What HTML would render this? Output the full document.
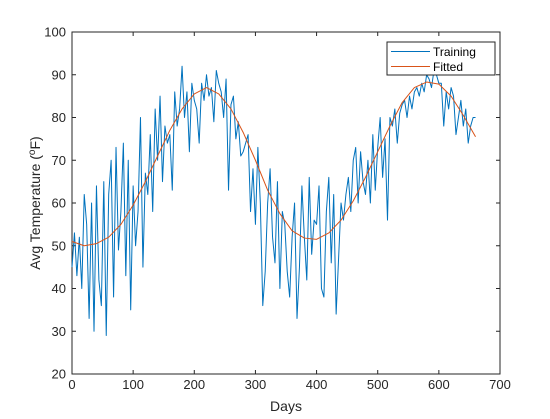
<!DOCTYPE html>
<html><head><meta charset="utf-8"><style>body{margin:0;background:#fff}svg{display:block;font-family:"Liberation Sans",sans-serif}</style></head>
<body>
<svg id="chart" width="550" height="419">
<rect x="0" y="0" width="550" height="419" fill="#fff"/>
<g id="plot"></g>
</svg>
<script>
const trainDayStep = 4;
const trainValues = [45,53,43,52,40,62,55,33,60,30,64,42,36,65,29,62,
70,38,73,49,58,74,43,70,35,64,50,58,80,45,67,
62,76,58,82,70,85,65,78,74,76,63,86,78,82,92,
80,86,72,88,84,82,74,88,84,90,85,87,79,91,88,
86,80,89,63,83,85,75,79,71,72,74,76,58,68,55,
73,60,36,44,60,68,52,46,65,40,58,55,44,38,52,
60,33,45,64,52,42,66,48,56,55,64,40,38,58,66,
46,62,34,47,60,56,62,66,58,70,73,60,72,65,62,
70,60,76,63,73,80,66,75,56,80,78,82,74,81,83,
84,80,85,82,86,87,85,88,86,90,89,87,91,90,88,
88,78,86,82,87,85,76,80,84,78,82,74,78,80,80];
const fitDays = [0,20,40,60,80,100,120,140,160,180,200,220,240,260,280,300,320,340,360,380,400,420,440,460,480,500,520,540,560,580,600,620,640,660];
const fitValues = [51,50,50.5,52,55,59.5,65,71,77,82,85.5,87,85.5,82,76.5,70,63,57.5,53.5,51.8,51.5,53,56,60.5,66,72,78,83.5,87,88.3,87.8,85,80.5,75.5];
const xTicks = [0,100,200,300,400,500,600,700];
const yTicks = [20,30,40,50,60,70,80,90,100];

const L=72,R=500,T=32,B=374;
const xs=d=>L+(d-0)/700*(R-L);
const ys=v=>B-(v-20)/80*(B-T);
const NS="http://www.w3.org/2000/svg";
const g=document.getElementById('plot');
function mk(tag,attrs,parent){const e=document.createElementNS(NS,tag);for(const k in attrs)e.setAttribute(k,attrs[k]);(parent||g).appendChild(e);return e;}

const axes=mk('rect',{x:L,y:T,width:R-L,height:B-T,fill:'none',stroke:'#262626','stroke-width':1});



xTicks.forEach(t=>{
  const x=xs(t);
  const tk=mk('path',{d:`M${x},${B}v-4M${x},${T}v4`,stroke:'#262626'});
  
  
  const lb=mk('text',{x:x,y:B+15,'text-anchor':'middle','font-size':13,fill:'#262626'});
  lb.textContent=t;
  
  
});
yTicks.forEach(t=>{
  const y=ys(t);
  const tk=mk('path',{d:`M${L},${y}h4M${R},${y}h-4`,stroke:'#262626'});
  
  
  const lb=mk('text',{x:L-6,y:y+4.5,'text-anchor':'end','font-size':13,fill:'#262626'});
  lb.textContent=t;
  
  
});

const tp=trainValues.map((v,i)=>`${xs(i*trainDayStep).toFixed(2)},${ys(v).toFixed(2)}`).join(' ');
const tl=mk('polyline',{points:tp,fill:'none',stroke:'#0072BD','stroke-width':1,'stroke-linejoin':'round'});



const fp=fitValues.map((v,i)=>`${xs(fitDays[i]).toFixed(2)},${ys(v).toFixed(2)}`).join(' ');
const fl=mk('polyline',{points:fp,fill:'none',stroke:'#D95319','stroke-width':1,'stroke-linejoin':'round'});



const xl=mk('text',{x:(L+R)/2,y:411,'text-anchor':'middle','font-size':14,fill:'#262626'});
xl.textContent='Days';



const yl=mk('text',{x:0,y:0,'text-anchor':'middle','font-size':14,fill:'#262626',transform:`translate(40,${(T+B)/2}) rotate(-90)`});
yl.innerHTML='Avg Temperature (<tspan baseline-shift="super" font-size="10">o</tspan>F)';



const lg=mk('g',{});


mk('rect',{x:387,y:42,width:108,height:33,fill:'#fff',stroke:'#262626'},lg);
const e1=mk('g',{},lg);


mk('line',{x1:391,y1:51.5,x2:430,y2:51.5,stroke:'#0072BD'},e1);
const t1=mk('text',{x:433,y:56,'font-size':12,fill:'#000'},e1);t1.textContent='Training';
const e2=mk('g',{},lg);


mk('line',{x1:391,y1:66.5,x2:430,y2:66.5,stroke:'#D95319'},e2);
const t2=mk('text',{x:433,y:71,'font-size':12,fill:'#000'},e2);t2.textContent='Fitted';
</script>
</body></html>
